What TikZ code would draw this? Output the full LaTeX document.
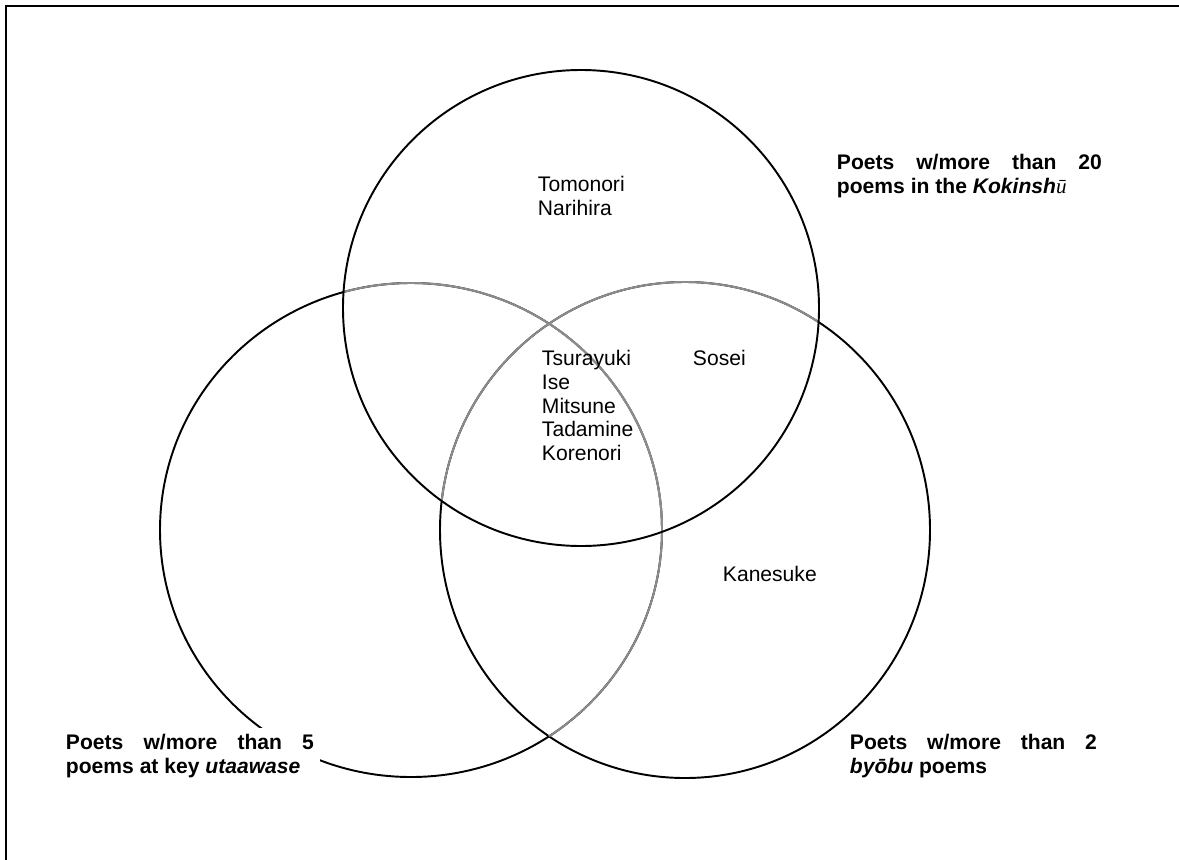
\documentclass[tikz,border=0pt]{standalone}
\usepackage{fontspec}
\setmainfont{Liberation Sans}
\newfontfamily\serifit{Liberation Serif}
\begin{document}
\begin{tikzpicture}[x=0.02cm,y=-0.02cm,line width=1.1pt,
  font=\fontsize{12}{13.6}\selectfont,
  poet/.style={anchor=north west,inner sep=0pt,align=left},
  setlabel/.style={anchor=north west,inner sep=3.5pt,fill=white,align=justify,font=\fontsize{12}{13.6}\selectfont\bfseries},
  inner/.style={black!45}]
\useasboundingbox (0,0) rectangle (1179,859);
\fill [white] (-5,-5) rectangle (1184,864);
\draw [line width=1.2pt] (6,864) -- (6,6) -- (1184,6);

\draw [] (411,530) ellipse [x radius=251, y radius=247];
\draw [] (685,530) ellipse [x radius=245, y radius=248];
% arcs lying inside another set are lighter
\begin{scope}
\clip (581,308) circle [radius=238];
\draw [inner] (411,530) ellipse [x radius=251, y radius=247];
\draw [inner] (685,530) ellipse [x radius=245, y radius=248];
\end{scope}
\begin{scope}
\clip (685,530) ellipse [x radius=245, y radius=248];
\draw [inner] (411,530) ellipse [x radius=251, y radius=247];
\end{scope}
\draw [] (581,308) circle [radius=238];

\node[poet] (kokin) at(537,175){Tomonori\\Narihira};
\node[poet] (core) at(541,349){Tsurayuki\\Ise\\Mitsune\\Tadamine\\Korenori};
\node[poet] (sosei) at(692,349){Sosei};
\node[poet] (kanesuke) at(722,565){Kanesuke};

% text boxes are white, they hide the arcs behind them
\node[setlabel,text width=5.3cm] (kokinlabel) at([xshift=-3.5pt,yshift=3.5pt]836,153){Poets w/more than 20\linebreak poems in the \textit{Kokinsh{\serifit\mdseries ū}}};
\node[setlabel,text width=4.96cm] (utalabel) at([xshift=-3.5pt,yshift=3.5pt]65,733){Poets w/more than 5\linebreak poems at key \textit{utaawase}};
\node[setlabel,text width=4.94cm] (byobulabel) at([xshift=-3.5pt,yshift=3.5pt]849,733){Poets w/more than 2\linebreak \textit{byōbu} poems};
\end{tikzpicture}
\end{document}
